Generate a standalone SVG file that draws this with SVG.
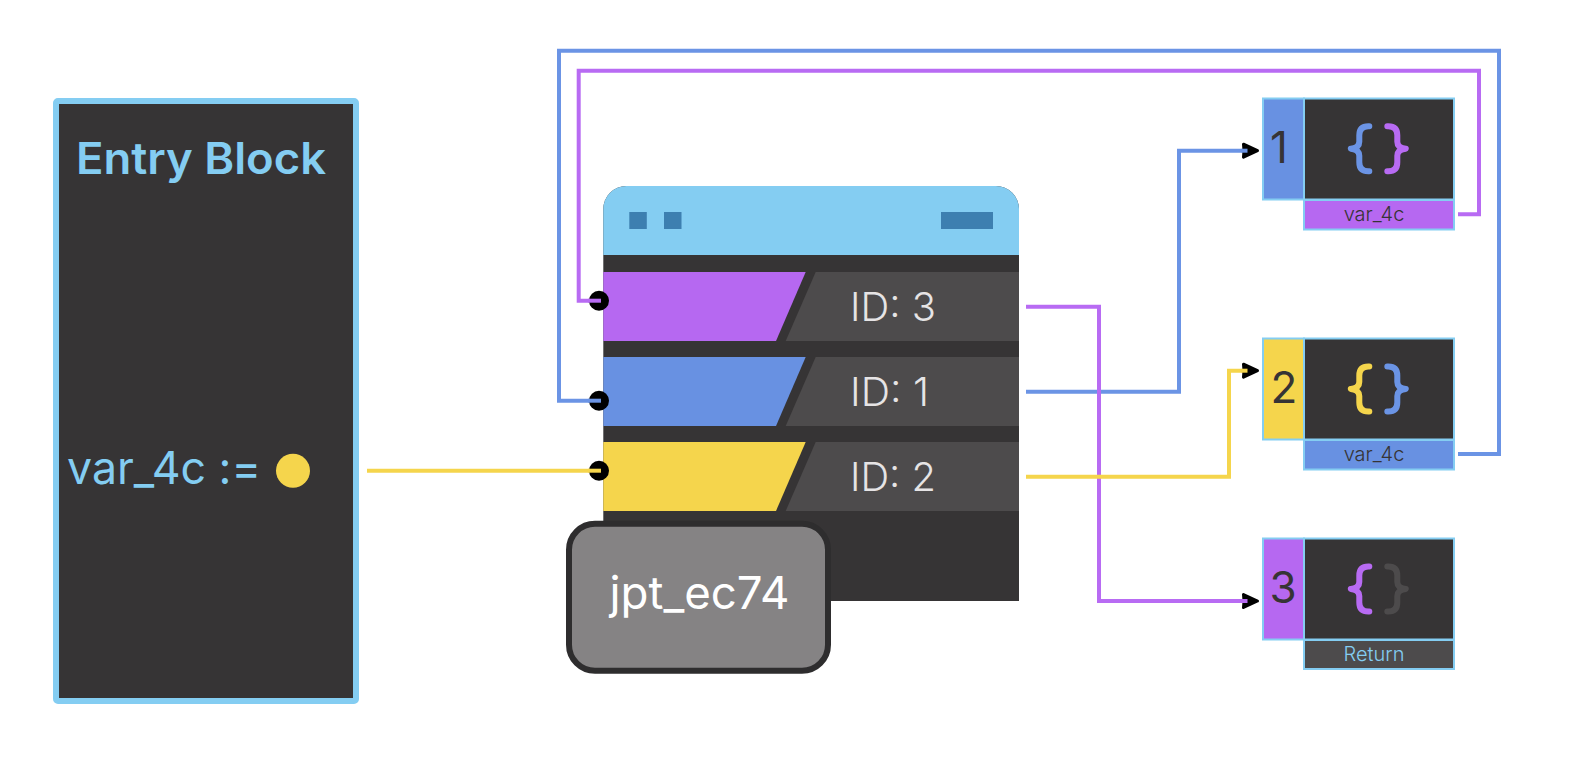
<svg xmlns="http://www.w3.org/2000/svg" xmlns:xlink="http://www.w3.org/1999/xlink" width="1592" height="758" viewBox="0 0 1592 758">
<style>
text{font-family:Inter,"Liberation Sans",Arial,sans-serif}
.conn{fill:none;stroke-width:4;stroke-linejoin:miter}
.blue{stroke:#6b94e5}.purple{stroke:#b86bf3}.yellow{stroke:#f5d54c}
.dark{stroke:#4d4b4c}
.fblue{fill:#6891e2}.fpurple{fill:#b668f1}.fyellow{fill:#f5d54c}.fgray{fill:#4d4b4c}
.box{stroke:#84cdf2;stroke-width:2}
.main{fill:#363435;stroke:#84cdf2;stroke-width:2}
.num{font-size:44px;fill:#363435;text-anchor:middle;font-weight:400}
.lab{font-size:20px;fill:#363435;text-anchor:middle;font-weight:300}
.id{font-size:40px;fill:#e6e4e5;font-weight:300}
.brace{fill:none;stroke-width:6;stroke-linecap:round;stroke-linejoin:round}
.tb{fill:#3d7fb0}
</style>
<defs>
<path id="bl" d="M-9-22.5H-10Q-19-22.5-19-13.5V-7Q-19-1-27.5 0Q-19 1-19 7V13.5Q-19 22.5-10 22.5H-9"/>
<path id="br" d="M9-22.5H10Q19-22.5 19-13.5V-7Q19-1 27.5 0Q19 1 19 7V13.5Q19 22.5 10 22.5H9"/>
<marker id="aBlue" markerUnits="userSpaceOnUse" markerWidth="30" markerHeight="24" refX="10" refY="12" orient="auto" overflow="visible"><path d="M6 5.5L20 12L6 18.5L6.5 12Z" fill="#000" stroke="#000" stroke-width="3" stroke-linejoin="round"/><path d="M4 12H10" stroke="#6b94e5" stroke-width="4"/></marker>
<marker id="aPurple" markerUnits="userSpaceOnUse" markerWidth="30" markerHeight="24" refX="10" refY="12" orient="auto" overflow="visible"><path d="M6 5.5L20 12L6 18.5L6.5 12Z" fill="#000" stroke="#000" stroke-width="3" stroke-linejoin="round"/><path d="M4 12H10" stroke="#b86bf3" stroke-width="4"/></marker>
<marker id="aYellow" markerUnits="userSpaceOnUse" markerWidth="30" markerHeight="24" refX="10" refY="12" orient="auto" overflow="visible"><path d="M6 5.5L20 12L6 18.5L6.5 12Z" fill="#000" stroke="#000" stroke-width="3" stroke-linejoin="round"/><path d="M4 12H10" stroke="#f5d54c" stroke-width="4"/></marker>
<marker id="dBlue" markerUnits="userSpaceOnUse" markerWidth="30" markerHeight="30" refX="15" refY="15" orient="0" overflow="visible"><circle cx="13" cy="15" r="10"/><path d="M2 15H15" stroke="#6b94e5" stroke-width="4"/></marker>
<marker id="dPurple" markerUnits="userSpaceOnUse" markerWidth="30" markerHeight="30" refX="15" refY="15" orient="0" overflow="visible"><circle cx="13" cy="15" r="10"/><path d="M2 15H15" stroke="#b86bf3" stroke-width="4"/></marker>
<marker id="dYellow" markerUnits="userSpaceOnUse" markerWidth="30" markerHeight="30" refX="15" refY="15" orient="0" overflow="visible"><circle cx="13" cy="15" r="10"/><path d="M2 15H15" stroke="#f5d54c" stroke-width="4"/></marker>
</defs>
<rect width="1592" height="758" fill="#fff"/>
<g id="entry-block">
<rect x="56" y="101" width="300" height="600" rx="2" fill="#363435" stroke="#84cdf2" stroke-width="6"/>
<text x="76" y="174.3" font-size="44" font-weight="600" fill="#84cdf2" textLength="250" lengthAdjust="spacingAndGlyphs">Entry Block</text>
<text x="67" y="484" font-size="45" font-weight="400" fill="#84cdf2" textLength="194" lengthAdjust="spacingAndGlyphs">var_4c :=</text>
<circle cx="293" cy="470.7" r="17" fill="#f5d54c"/>
</g>
<g id="jump-table">
<path d="M603.3 601V209a23 23 0 0 1 23-23H996a23 23 0 0 1 23 23V601Z" fill="#363435"/>
<path d="M603.3 255V209a23 23 0 0 1 23-23H996a23 23 0 0 1 23 23V255Z" fill="#84cdf2"/>
<rect class="tb" x="629.3" y="212" width="17.5" height="17"/>
<rect class="tb" x="664" y="212" width="17.5" height="17"/>
<rect class="tb" x="941" y="212" width="52" height="17"/>
<polygon class="fpurple" points="603.3,272 805.7,272 776,341 603.3,341"/>
<polygon class="fgray" points="815.7,272 1019,272 1019,341 785.7,341"/>
<text class="id" x="850" y="320.7" textLength="86" lengthAdjust="spacingAndGlyphs">ID: 3</text>
<polygon class="fblue" points="603.3,357 805.7,357 776,426 603.3,426"/>
<polygon class="fgray" points="815.7,357 1019,357 1019,426 785.7,426"/>
<text class="id" x="850" y="405.7" textLength="79" lengthAdjust="spacingAndGlyphs">ID: 1</text>
<polygon class="fyellow" points="603.3,442 805.7,442 776,511 603.3,511"/>
<polygon class="fgray" points="815.7,442 1019,442 1019,511 785.7,511"/>
<text class="id" x="850" y="490.7" textLength="86" lengthAdjust="spacingAndGlyphs">ID: 2</text>
</g>
<g id="jpt-label">
<rect x="569" y="523.7" width="259" height="147" rx="26" fill="#858384" stroke="#2e2d2e" stroke-width="6"/>
<text x="699.5" y="609" font-size="45" font-weight="400" fill="#fff" text-anchor="middle" textLength="180" lengthAdjust="spacingAndGlyphs">jpt_ec74</text>
</g>
<g id="node-1">
<rect class="box fblue" x="1263" y="98.5" width="41" height="101"/>
<rect class="main" x="1304" y="98.5" width="150" height="101"/>
<rect class="box fpurple" x="1304" y="200" width="150" height="29.5"/>
<text class="num" x="1279" y="163.3">1</text>
<use href="#bl" x="1378.3" y="148.7" class="brace blue"/>
<use href="#br" x="1378.3" y="148.7" class="brace purple"/>
<text class="lab" x="1374" y="220.5">var_4c</text>
</g>
<g id="node-2">
<rect class="box fyellow" x="1263" y="338.5" width="41" height="101"/>
<rect class="main" x="1304" y="338.5" width="150" height="101"/>
<rect class="box fblue" x="1304" y="440" width="150" height="29.5"/>
<text class="num" x="1284" y="403">2</text>
<use href="#bl" x="1378.3" y="389" class="brace yellow"/>
<use href="#br" x="1378.3" y="389" class="brace blue"/>
<text class="lab" x="1374" y="460.5">var_4c</text>
</g>
<g id="node-3">
<rect class="box fpurple" x="1263" y="538.5" width="41" height="101"/>
<rect class="main" x="1304" y="538.5" width="150" height="101"/>
<rect class="box fgray" x="1304" y="640" width="150" height="29"/>
<text class="num" x="1283" y="603">3</text>
<use href="#bl" x="1378.3" y="589" class="brace purple"/>
<use href="#br" x="1378.3" y="589" class="brace dark"/>
<text class="lab" x="1374" y="660.5" style="fill:#84cdf2">Return</text>
</g>
<g id="connectors">
<path class="conn blue" d="M1026 391.7H1179V150.7H1247.5" marker-end="url(#aBlue)"/>
<path class="conn blue" d="M1458 454H1499V50.7H559V400.7H601" marker-end="url(#dBlue)"/>
<path class="conn purple" d="M1026 306.7H1099V601H1247.5" marker-end="url(#aPurple)"/>
<path class="conn purple" d="M1458 214.3H1479V70.7H578.7V300.7H601" marker-end="url(#dPurple)"/>
<path class="conn yellow" d="M1026 476.7H1229V370.7H1247.5" marker-end="url(#aYellow)"/>
<path class="conn yellow" d="M367 470.7H601" marker-end="url(#dYellow)"/>
</g>
</svg>
